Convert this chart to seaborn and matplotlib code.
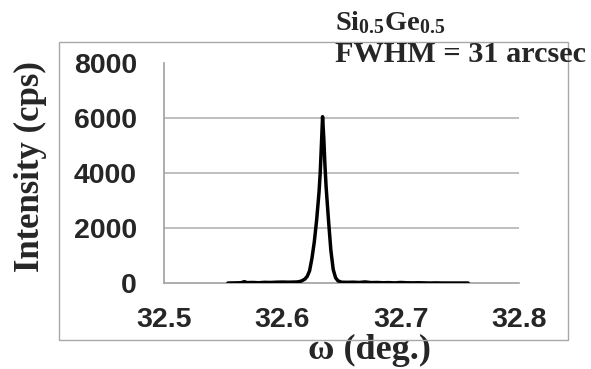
import matplotlib
matplotlib.use("Agg")
import matplotlib.pyplot as plt
import seaborn as sns
import pandas as pd
from matplotlib.patches import Rectangle

sns.set_style("white")
plt.rcParams['font.family'] = ['Liberation Sans', 'DejaVu Sans']
plt.rcParams['mathtext.fontset'] = 'custom'
plt.rcParams['mathtext.rm'] = 'Liberation Serif:bold'
plt.rcParams['mathtext.bf'] = 'Liberation Serif:bold'
plt.rcParams['mathtext.it'] = 'Liberation Serif:bold'

# data (omega in degrees, intensity in cps)
omega = [32.554, 32.560, 32.565, 32.568, 32.570, 32.575, 32.580, 32.585, 32.590,
         32.595, 32.600, 32.605, 32.610, 32.613, 32.616, 32.619, 32.621, 32.623,
         32.625, 32.627, 32.629, 32.631, 32.632, 32.633, 32.634, 32.635, 32.636,
         32.637, 32.639, 32.641, 32.643, 32.645, 32.647, 32.650, 32.655, 32.660,
         32.665, 32.670, 32.675, 32.680, 32.685, 32.690, 32.695, 32.700, 32.705,
         32.710, 32.715, 32.720, 32.725, 32.730, 32.735, 32.740, 32.745, 32.750,
         32.757]
intensity = [10, 15, 20, 60, 25, 30, 20, 35, 30,
             40, 45, 40, 45, 50, 80, 150, 250, 450,
             900, 1500, 2300, 3300, 4000, 5000, 6050, 5300, 4300,
             3500, 2300, 1200, 500, 200, 90, 40, 35, 40,
             30, 50, 25, 30, 20, 25, 15, 30, 20,
             15, 20, 15, 10, 15, 10, 10, 10, 10,
             10]
x_ticks = [32.5, 32.6, 32.7, 32.8]
y_ticks = [0, 2000, 4000, 6000, 8000]
sample_label = r'$\mathbf{Si_{0.5}Ge_{0.5}}$'
fwhm_label = 'FWHM = 31 arcsec'
x_label = 'ω (deg.)'
y_label = 'Intensity (cps)'

df = pd.DataFrame({'omega': omega, 'intensity': intensity})

fig = plt.figure(figsize=(5.91, 3.69), dpi=100)
fig.patch.set_facecolor('white')

# outer frame
fig.patches.append(Rectangle((59 / 591, 1 - 340 / 369), (568 - 59) / 591, (340 - 41.7) / 369,
                             transform=fig.transFigure, fill=False, edgecolor='#a8a8a8',
                             linewidth=1.0, zorder=0))

ax = fig.add_axes([164 / 591, 1 - 283.3 / 369, (519 - 164) / 591, (283.3 - 63) / 369])
ax.set_facecolor('none')

sns.lineplot(data=df, x='omega', y='intensity', ax=ax, color='black', linewidth=2.5,
             estimator=None, sort=False, zorder=3)

ax.set_xlim(32.5, 32.8)
ax.set_ylim(0, 8000)
ax.set_xticks(x_ticks)
ax.set_xticklabels([f'{v:.1f}' for v in x_ticks])
ax.set_yticks(y_ticks)
ax.set_yticklabels([str(v) for v in y_ticks])

for v in y_ticks[1:-1]:
    ax.axhline(v, color='#b4b4b4', linewidth=1.2, zorder=1)

for s in ['top', 'right']:
    ax.spines[s].set_visible(False)
for s in ['left', 'bottom']:
    ax.spines[s].set_color('#a0a0a0')
    ax.spines[s].set_linewidth(1.2)

ax.tick_params(axis='x', direction='in', length=5, width=1.0, color='#a0a0a0',
               pad=17, labelsize=20.5)
ax.tick_params(axis='y', length=0, pad=19.5, labelsize=20.5)
for lab in ax.get_xticklabels() + ax.get_yticklabels():
    lab.set_fontweight('bold')

ax.set_xlabel(x_label, family=['Liberation Serif', 'DejaVu Serif'], fontweight='bold',
              fontsize=26, va='center')
ax.xaxis.set_label_coords(0.58, -0.303)
ax.set_ylabel(y_label, family=['Liberation Serif', 'DejaVu Serif'], fontweight='bold',
              fontsize=25, va='center')
ax.yaxis.set_label_coords(-0.377, 0.528)

fig.text(335 / 591, 1 - 30 / 369, sample_label, fontsize=20.5, ha='left', va='baseline')
fig.text(335 / 591, 1 - 61.7 / 369, fwhm_label, family=['Liberation Serif', 'DejaVu Serif'],
         fontweight='bold', fontsize=21.8, ha='left', va='baseline')

fig.savefig('out.png', dpi=100, facecolor='white')
